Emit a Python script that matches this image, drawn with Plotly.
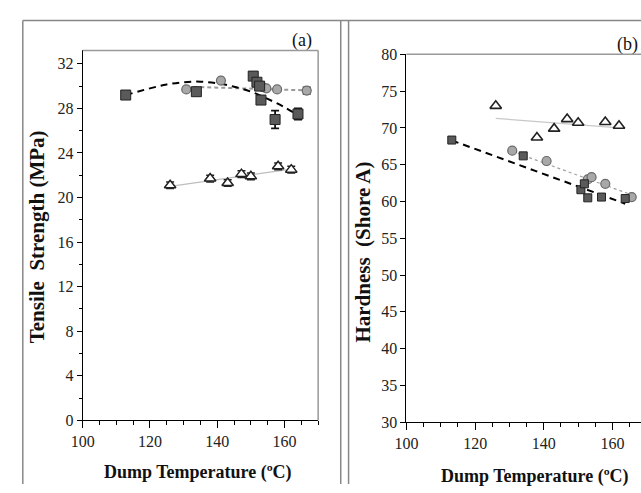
import plotly.graph_objects as go

# ---------------- Panel (a): Tensile strength ----------------
a_sq_x = [112.8, 133.8, 150.7, 151.8, 152.6, 153.0, 157.2, 164.0]
a_sq_y = [29.2, 29.5, 30.9, 30.35, 30.0, 28.75, 27.0, 27.5]
a_sq_err = [0.15, 0.3, 0.15, 0.15, 0.15, 0.2, 0.8, 0.5]

a_ci_x = [130.8, 141.1, 153.6, 154.6, 157.8, 166.6]
a_ci_y = [29.7, 30.5, 29.9, 29.8, 29.7, 29.6]
a_ci_err = [0.1, 0.1, 0.1, 0.1, 0.1, 0.3]

a_tr_x = [126.0, 137.9, 143.1, 147.2, 150.0, 158.1, 162.0]
a_tr_y = [21.1, 21.7, 21.3, 22.1, 21.9, 22.8, 22.5]
a_tr_err = [0.3, 0.3, 0.3, 0.3, 0.3, 0.3, 0.3]

# trend lines
a_sq_fit_x = [112.8, 120, 125, 130, 135, 140, 145, 150, 155, 160, 164.5]
a_sq_fit_y = [29.2, 29.8, 30.15, 30.35, 30.4, 30.25, 29.95, 29.5, 28.85, 28.1, 27.3]
a_ci_fit_x = [130.8, 166.6]
a_ci_fit_y = [29.95, 29.62]
a_tr_fit_x = [126.0, 162.0]
a_tr_fit_y = [21.0, 22.55]

# ---------------- Panel (b): Hardness ----------------
b_sq_x = [113.2, 134.0, 150.8, 151.8, 152.8, 156.8, 163.7]
b_sq_y = [68.35, 66.2, 61.6, 62.4, 60.5, 60.6, 60.4]

b_ci_x = [130.8, 140.8, 152.8, 153.9, 157.9, 165.6]
b_ci_y = [66.9, 65.5, 63.0, 63.3, 62.4, 60.6]

b_tr_x = [126.0, 138.0, 143.0, 146.8, 150.0, 157.9, 161.9]
b_tr_y = [73.0, 68.7, 69.9, 71.2, 70.7, 70.8, 70.3]

b_sq_fit_x = [113.2, 163.7]
b_sq_fit_y = [68.3, 59.7]
b_ci_fit_x = [130.8, 165.6]
b_ci_fit_y = [66.8, 60.9]
b_tr_fit_x = [126.0, 162.0]
b_tr_fit_y = [71.3, 70.0]

SQ_FILL = "#5a5a5a"
CI_FILL = "#a8a8a8"
SERIF = "Liberation Serif"

fig = go.Figure()

def add(x, y, xa, ya, **kw):
    fig.add_trace(go.Scatter(x=x, y=y, xaxis=xa, yaxis=ya, showlegend=False, hoverinfo="skip", **kw))

# Panel (a)
add(a_tr_fit_x, a_tr_fit_y, "x", "y", mode="lines", line=dict(color="#bdbdbd", width=1.2))
add(a_ci_fit_x, a_ci_fit_y, "x", "y", mode="lines", line=dict(color="#9a9a9a", width=2, dash="4px,3px"))
add(a_sq_fit_x, a_sq_fit_y, "x", "y", mode="lines", line=dict(color="black", width=2, dash="7px,5px"), line_shape="spline")
add(a_tr_x, a_tr_y, "x", "y", mode="markers",
    marker=dict(symbol="triangle-up", size=10, color="white", line=dict(color="#222", width=1.5)),
    error_y=dict(type="data", array=a_tr_err, color="#222", thickness=1.5, width=4))
add(a_ci_x, a_ci_y, "x", "y", mode="markers",
    marker=dict(symbol="circle", size=9, color=CI_FILL, line=dict(color="#6a6a6a", width=1.2)),
    error_y=dict(type="data", array=a_ci_err, color="#333", thickness=1.5, width=4))
add(a_sq_x, a_sq_y, "x", "y", mode="markers",
    marker=dict(symbol="square", size=10, color=SQ_FILL, line=dict(color="#222", width=1)),
    error_y=dict(type="data", array=a_sq_err, color="#111", thickness=1.8, width=4))

# Panel (b)
add(b_tr_fit_x, b_tr_fit_y, "x2", "y2", mode="lines", line=dict(color="#c8c8c8", width=1.2))
add(b_ci_fit_x, b_ci_fit_y, "x2", "y2", mode="lines", line=dict(color="#a0a0a0", width=1.2, dash="dot"))
add(b_sq_fit_x, b_sq_fit_y, "x2", "y2", mode="lines", line=dict(color="black", width=2, dash="7px,5px"))
add(b_tr_x, b_tr_y, "x2", "y2", mode="markers",
    marker=dict(symbol="triangle-up", size=10, color="white", line=dict(color="#222", width=1.6)))
add(b_ci_x, b_ci_y, "x2", "y2", mode="markers",
    marker=dict(symbol="circle", size=9, color=CI_FILL, line=dict(color="#6a6a6a", width=1.2)))
add(b_sq_x, b_sq_y, "x2", "y2", mode="markers",
    marker=dict(symbol="square", size=8, color=SQ_FILL, line=dict(color="#222", width=1)))

W, H = 641, 493
tickfont = dict(family=SERIF, size=16, color="#222")

def xaxis(dom, rng, anchor):
    return dict(domain=dom, range=rng, anchor=anchor, tickmode="linear", tick0=100, dtick=20,
                ticks="outside", ticklen=7, tickwidth=1.2, tickcolor="black", showline=True,
                linecolor="black", linewidth=1, showgrid=False, zeroline=False, tickfont=tickfont,
                minor=dict(dtick=5, tick0=100, ticks="outside", ticklen=4, tickwidth=1,
                           tickcolor="black", showgrid=False))

fig.update_layout(
    width=W, height=H, margin=dict(l=0, r=0, t=0, b=0),
    font=dict(family=SERIF, size=16, color="#222"),
    paper_bgcolor="white", plot_bgcolor="white",
    xaxis=xaxis([72 / W, 312 / W], [100, 170], "y"),
    yaxis=dict(domain=[(H - 427) / H, (H - 44) / H], range=[0, 33.2], anchor="x",
               tickmode="linear", tick0=0, dtick=4, ticks="outside", ticklen=5, tickwidth=1.2,
               tickcolor="black", showline=True, linecolor="black", linewidth=1, showgrid=False,
               zeroline=False, tickfont=tickfont,
               minor=dict(dtick=2, tick0=0, ticks="outside", ticklen=3, tickcolor="black", showgrid=False)),
    xaxis2=xaxis([402 / W, 1.0], [100, 168.3], "y2"),
    yaxis2=dict(domain=[(H - 429) / H, (H - 48) / H], range=[30, 80], anchor="x2",
                tickmode="linear", tick0=30, dtick=5, ticks="outside", ticklen=5, tickwidth=1.2,
                tickcolor="black", showline=True, linecolor="black", linewidth=1, showgrid=False,
                zeroline=False, tickfont=tickfont),
)

shapes = [
    dict(type="line", xref="x domain", yref="y domain", x0=0, x1=1, y0=1, y1=1, line=dict(color="#999", width=1.5)),
    dict(type="line", xref="x domain", yref="y domain", x0=1, x1=1, y0=0, y1=1, line=dict(color="#999", width=1.5)),
    dict(type="line", xref="x2 domain", yref="y2 domain", x0=0, x1=1, y0=1, y1=1, line=dict(color="#999", width=1.5)),
    dict(type="line", xref="paper", yref="paper", x0=11 / W, x1=1, y0=(H - 13) / H, y1=(H - 13) / H, line=dict(color="#888", width=1.5)),
    dict(type="line", xref="paper", yref="paper", x0=11 / W, x1=11 / W, y0=0, y1=(H - 13) / H, line=dict(color="#888", width=1.5)),
    dict(type="line", xref="paper", yref="paper", x0=335 / W, x1=335 / W, y0=0, y1=(H - 13) / H, line=dict(color="#888", width=1.5)),
    dict(type="line", xref="paper", yref="paper", x0=343 / W, x1=343 / W, y0=0, y1=(H - 13) / H, line=dict(color="#888", width=1.5)),
]
fig.update_layout(shapes=shapes)

def txt(x, y, s, size, bold=False, angle=0):
    fig.add_annotation(xref="paper", yref="paper", x=x / W, y=(H - y) / H, text=("<b>%s</b>" % s) if bold else s,
                       showarrow=False, textangle=angle, xanchor="center", yanchor="middle",
                       font=dict(family=SERIF, size=size, color="#111"))

txt(296, 34, "(a)", 18)
txt(627, 38, "(b)", 18)
txt(190, 481, "Dump Temperature (ºC)", 18, bold=True)
txt(533, 485, "Dump Temperature (ºC)", 18, bold=True)
txt(25, 237, "Tensile\u00a0 Strength (MPa)", 21, bold=True, angle=-90)
txt(358, 253, "Hardness\u00a0 (Shore A)", 21, bold=True, angle=-90)

fig.write_html("out.html")
